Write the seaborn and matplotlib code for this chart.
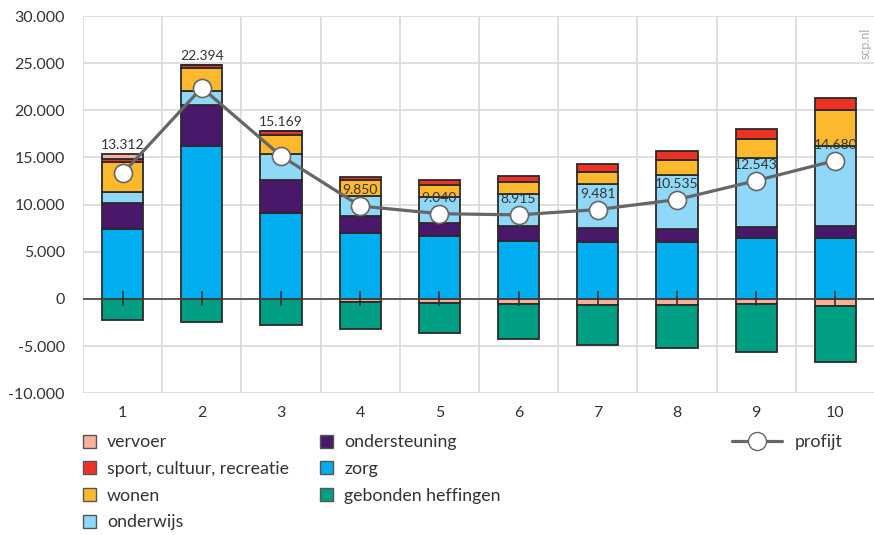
import numpy as np
import seaborn as sns
import matplotlib.pyplot as plt
from matplotlib.ticker import FuncFormatter
from matplotlib.patches import Patch
from matplotlib.lines import Line2D

sns.set_style('white')
plt.rcParams['font.family'] = ['Lato', 'DejaVu Sans']

# deciles 1..10, values in euro
deciles = ['1', '2', '3', '4', '5', '6', '7', '8', '9', '10']
zorg = [7390, 16190, 9150, 6970, 6690, 6160, 6090, 5990, 6410, 6510]
ondersteuning = [2820, 4400, 3410, 1830, 1410, 1580, 1480, 1410, 1270, 1230]
onderwijs = [1160, 1410, 2820, 2110, 2710, 3420, 4580, 5740, 7220, 8520]
wonen = [3170, 2460, 2040, 1650, 1230, 1270, 1340, 1580, 2080, 3730]
sport = [320, 320, 420, 390, 530, 630, 770, 1020, 1060, 1300]
vervoer = [560, 0, 0, -350, -420, -560, -630, -630, -530, -700]
heffingen = [-2190, -2460, -2750, -2820, -3200, -3660, -4230, -4580, -5100, -5990]
profijt = [13312, 22394, 15169, 9850, 9040, 8915, 9481, 10535, 12543, 14680]

series = [
    ('zorg', zorg, '#00aeef'),
    ('ondersteuning', ondersteuning, '#4a186b'),
    ('onderwijs', onderwijs, '#8fd8f8'),
    ('wonen', wonen, '#fdb92e'),
    ('sport, cultuur, recreatie', sport, '#ee3124'),
    ('vervoer', vervoer, '#f9b09a'),
    ('gebonden heffingen', heffingen, '#009e82'),
]
colors = {name: c for name, vals, c in series}

fig = plt.figure(figsize=(8.74, 5.35), dpi=100)
ax = fig.add_axes([0.095, 0.265, 0.906, 0.705])

pos_bottom = np.zeros(len(deciles))
neg_bottom = np.zeros(len(deciles))
for name, vals, c in series:
    vals = np.array(vals, dtype=float)
    bottom = np.where(vals >= 0, pos_bottom, neg_bottom)
    sns.barplot(x=deciles, y=vals, bottom=bottom, color=c, width=0.52,
                edgecolor='#2b2b2b', linewidth=1.3, saturation=1, ax=ax, zorder=2)
    pos_bottom += np.where(vals > 0, vals, 0)
    neg_bottom += np.where(vals < 0, vals, 0)

ax.axhline(0, color='#444444', lw=1.2, zorder=3)
ax.vlines(np.arange(len(deciles)), -800, 800, color='#333333', lw=1.2, zorder=3)

sns.lineplot(x=np.arange(len(deciles)), y=profijt, color='#666666', lw=2.3,
             marker='o', markersize=13, markerfacecolor='white',
             markeredgecolor='#666666', markeredgewidth=1.2, ax=ax, zorder=4)

for i, p in enumerate(profijt):
    lab = f'{p:,}'.replace(',', '.')
    if i < 3:
        ax.annotate(lab, (i, pos_bottom[i]), xytext=(0, 2), textcoords='offset points',
                    ha='center', va='bottom', fontsize=10, color='#333333', zorder=5)
    else:
        ax.annotate(lab, (i, p), xytext=(0, 7), textcoords='offset points',
                    ha='center', va='bottom', fontsize=10, color='#333333', zorder=5)

ax.set_xlim(-0.5, 9.5)
ax.set_ylim(-10000, 30000)
ax.set_yticks(np.arange(-10000, 30001, 5000))
ax.yaxis.set_major_formatter(FuncFormatter(lambda v, _: f'{v:,.0f}'.replace(',', '.')))
ax.set_xticks(np.arange(-0.5, 10, 1), minor=True)
ax.grid(axis='y', which='major', color='#d9d9d9', lw=1.2, zorder=0)
ax.grid(axis='x', which='minor', color='#d9d9d9', lw=1.2, zorder=0)
ax.set_axisbelow(True)
for s in ax.spines.values():
    s.set_visible(False)
ax.tick_params(which='both', length=0)
ax.tick_params(axis='y', pad=13, labelsize=11.5, labelcolor='#333333')
ax.tick_params(axis='x', pad=9, labelsize=11.5, labelcolor='#333333')
ax.set_xlabel('')
ax.set_ylabel('')

ax.text(0.988, 0.97, 'scp.nl', transform=ax.transAxes, rotation=90, ha='center', va='top',
        fontsize=9, color='#aaaaaa')

order = ['vervoer', 'sport, cultuur, recreatie', 'wonen', 'onderwijs',
         'ondersteuning', 'zorg', 'gebonden heffingen']
handles = [Patch(facecolor=colors[n], edgecolor='#555555', lw=1) for n in order]
fig.legend(handles, order, loc='upper left', bbox_to_anchor=(0.095, 0.188), ncol=2,
           frameon=False, fontsize=12.8, handlelength=0.75, handleheight=0.75,
           handletextpad=0.6, labelspacing=0.6, columnspacing=1.75,
           borderpad=0, borderaxespad=0, labelcolor='#333333')
line_h = Line2D([], [], color='#666666', lw=2.3, marker='o', markersize=13,
                markerfacecolor='white', markeredgecolor='#666666')
fig.legend([line_h], ['profijt'], loc='upper left', bbox_to_anchor=(0.838, 0.188),
           frameon=False, fontsize=12.8, handlelength=2.8, handletextpad=0.7,
           borderpad=0, borderaxespad=0, labelcolor='#333333')

fig.savefig('out.png', dpi=100)
